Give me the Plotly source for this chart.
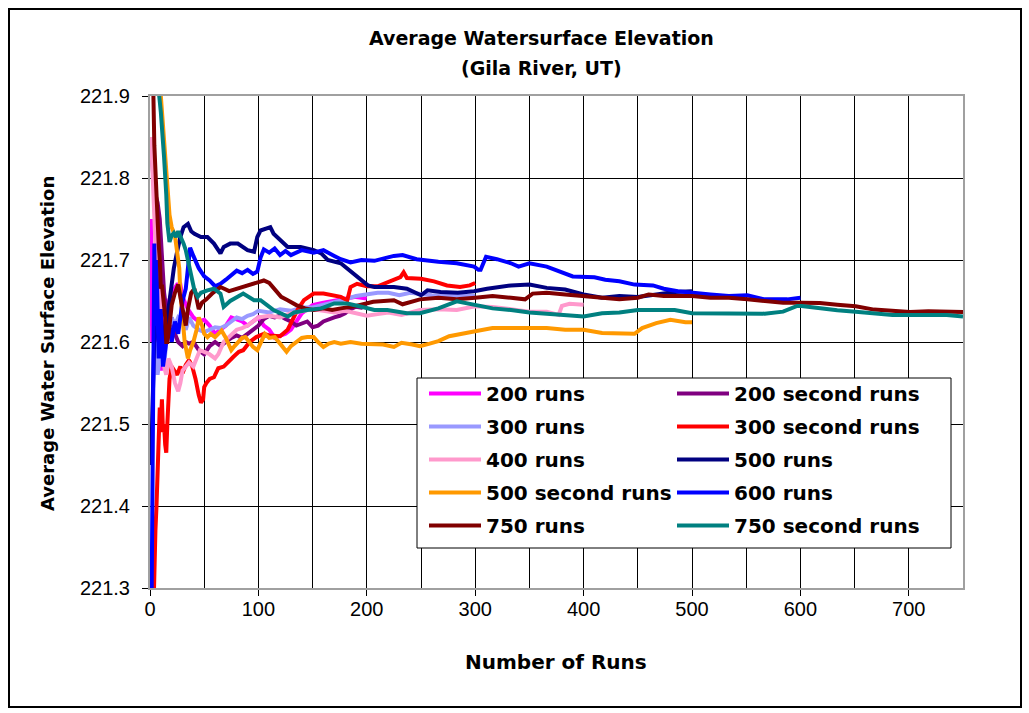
import plotly.graph_objects as go

# ---------------- data ----------------
x_ticks = [0, 100, 200, 300, 400, 500, 600, 700]
y_ticks = [221.3, 221.4, 221.5, 221.6, 221.7, 221.8, 221.9]

runs_200 = [1, 2, 3, 5, 8, 10, 12, 15, 20, 25, 28, 30, 35, 40, 45, 50, 55, 60, 65, 70, 75, 80, 85, 90,
            95, 100, 105, 110, 115, 120, 125, 130, 135, 140, 145, 150, 160, 170, 180, 190, 200]
elev_200 = [221.75, 221.60, 221.70, 221.62, 221.60, 221.565, 221.60, 221.64, 221.66, 221.67, 221.67, 221.655,
            221.64, 221.63, 221.625, 221.627, 221.62, 221.61, 221.615, 221.62, 221.63, 221.628, 221.625, 221.62,
            221.625, 221.63, 221.62, 221.615, 221.605, 221.607, 221.61, 221.615, 221.625, 221.635, 221.64,
            221.645, 221.648, 221.65, 221.652, 221.655, 221.653]

runs_200b = [1, 3, 5, 7, 9, 11, 13, 15, 18, 20, 23, 26, 30, 33, 36, 40, 45, 50, 55, 60, 65, 70, 75, 80,
             85, 90, 95, 100, 105, 110, 115, 120, 125, 130, 135, 140, 145, 150, 155, 160, 165, 170, 175,
             180, 185, 190, 195, 200]
elev_200b = [221.85, 221.80, 221.78, 221.77, 221.75, 221.70, 221.66, 221.64, 221.62, 221.63, 221.61, 221.60,
             221.595, 221.60, 221.598, 221.60, 221.59, 221.585, 221.595, 221.60, 221.595, 221.60, 221.605,
             221.608, 221.605, 221.61, 221.615, 221.62, 221.628, 221.632, 221.63, 221.632, 221.628, 221.625,
             221.62, 221.622, 221.625, 221.618, 221.62, 221.625, 221.628, 221.63, 221.632, 221.635, 221.64,
             221.643, 221.642, 221.645]

runs_300 = [1, 3, 5, 7, 9, 11, 13, 15, 18, 20, 23, 26, 30, 33, 36, 40, 45, 50, 55, 60, 65, 70, 75, 80, 85,
            90, 95, 100, 110, 120, 130, 140, 150, 160, 170, 180, 190, 200, 210, 220, 230, 240, 250, 260,
            270, 280, 290, 300]
elev_300 = [221.45, 221.55, 221.60, 221.56, 221.58, 221.60, 221.57, 221.60, 221.62, 221.63, 221.62, 221.63,
            221.625, 221.615, 221.63, 221.62, 221.615, 221.612, 221.615, 221.618, 221.617, 221.62, 221.625,
            221.63, 221.628, 221.632, 221.634, 221.638, 221.636, 221.64, 221.638, 221.642, 221.642, 221.645,
            221.648, 221.652, 221.656, 221.658, 221.66, 221.66, 221.657, 221.66, 221.658, 221.657, 221.656,
            221.657, 221.656, 221.656]

runs_300b = [1, 3, 5, 6, 7, 8, 9, 10, 11, 12, 13, 14, 15, 16, 17, 18, 20, 22, 25, 28, 30, 33, 36, 39, 42,
             45, 47, 49, 50, 52, 55, 59, 63, 68, 72, 77, 82, 86, 92, 98, 105, 110, 120, 127, 130, 133, 136,
             142, 151, 160, 170, 176, 182, 185, 191, 200, 210, 225, 231, 234, 237, 250, 262, 274, 286, 295,
             300]
elev_300b = [221.15, 221.28, 221.37, 221.40, 221.45, 221.50, 221.52, 221.50, 221.53, 221.49, 221.50, 221.475,
             221.465, 221.50, 221.54, 221.555, 221.57, 221.565, 221.56, 221.57, 221.562, 221.572, 221.578,
             221.57, 221.555, 221.535, 221.526, 221.53, 221.545, 221.55, 221.555, 221.557, 221.568, 221.57,
             221.576, 221.582, 221.588, 221.59, 221.60, 221.606, 221.61, 221.608, 221.607, 221.615, 221.623,
             221.632, 221.639, 221.651, 221.659, 221.659, 221.656, 221.655, 221.651, 221.667, 221.671,
             221.668, 221.668, 221.675, 221.679, 221.685, 221.678, 221.677, 221.674, 221.669, 221.667,
             221.669, 221.672]

runs_400 = [1, 3, 5, 7, 9, 11, 13, 15, 17, 20, 23, 26, 28, 30, 33, 36, 40, 43, 46, 50, 55, 60, 63, 68, 72,
            75, 80, 85, 90, 95, 100, 110, 120, 130, 140, 150, 160, 170, 180, 190, 200, 210, 220, 232, 249,
            266, 283, 300, 316, 333, 350, 366, 377, 380, 387, 400]
elev_400 = [221.85, 221.78, 221.72, 221.68, 221.66, 221.60, 221.57, 221.56, 221.58, 221.57, 221.55, 221.54,
            221.55, 221.565, 221.57, 221.575, 221.57, 221.58, 221.59, 221.588, 221.585, 221.58, 221.585,
            221.60, 221.605, 221.61, 221.615, 221.617, 221.62, 221.625, 221.63, 221.632, 221.63, 221.635,
            221.638, 221.64, 221.638, 221.636, 221.638, 221.635, 221.632, 221.634, 221.636, 221.633,
            221.639, 221.640, 221.639, 221.6435, 221.6427, 221.640, 221.637, 221.637, 221.633, 221.644,
            221.6467, 221.6455]

runs_500 = [1, 3, 5, 8, 10, 13, 16, 19, 22, 25, 28, 31, 35, 38, 41, 47, 53, 59, 65, 68, 74, 81, 90, 96,
            99, 102, 108, 111, 114, 121, 127, 139, 151, 158, 164, 176, 188, 201, 207, 225, 237, 250, 256,
            268, 284, 299, 311, 333, 350, 366, 383, 400, 417, 433, 450, 467, 484, 500]
elev_500 = [221.45, 221.56, 221.66, 221.60, 221.63, 221.60, 221.63, 221.66, 221.69, 221.71, 221.728, 221.74,
            221.744, 221.735, 221.732, 221.728, 221.728, 221.72, 221.708, 221.716, 221.72, 221.72, 221.712,
            221.71, 221.728, 221.736, 221.738, 221.740, 221.732, 221.724, 221.716, 221.716, 221.712,
            221.708, 221.700, 221.696, 221.683, 221.669, 221.667, 221.667, 221.665, 221.657, 221.663,
            221.661, 221.660, 221.662, 221.665, 221.669, 221.670, 221.666, 221.664, 221.658, 221.654,
            221.656, 221.655, 221.658, 221.661, 221.662]

runs_500b = [1, 5, 8, 10, 12, 14, 16, 18, 20, 23, 25, 27, 28, 30, 32, 35, 37, 40, 43, 45, 48, 50, 53, 56,
             60, 63, 66, 70, 75, 78, 81, 85, 88, 91, 95, 99, 103, 106, 110, 115, 120, 126, 130, 135, 140,
             145, 151, 155, 160, 165, 170, 176, 185, 195, 207, 215, 225, 232, 242, 249, 258, 266, 276, 290,
             300, 316, 333, 350, 366, 383, 400, 417, 433, 447, 454, 467, 480, 494, 500]
elev_500b = [222.10, 222.00, 221.93, 221.90, 221.86, 221.82, 221.785, 221.755, 221.74, 221.73, 221.71,
             221.69, 221.66, 221.63, 221.60, 221.58, 221.59, 221.60, 221.615, 221.63, 221.62, 221.61, 221.606,
             221.61, 221.606, 221.61, 221.614, 221.605, 221.59, 221.595, 221.60, 221.605, 221.606, 221.60,
             221.594, 221.59, 221.60, 221.61, 221.605, 221.606, 221.598, 221.588, 221.595, 221.60, 221.605,
             221.606, 221.606, 221.60, 221.594, 221.598, 221.60, 221.598, 221.60, 221.598, 221.598, 221.597,
             221.594, 221.599, 221.597, 221.595, 221.598, 221.601, 221.607, 221.61, 221.613, 221.617,
             221.617, 221.617, 221.617, 221.615, 221.615, 221.611, 221.611, 221.61, 221.617, 221.623,
             221.627, 221.624, 221.624]

runs_600 = [1, 2, 3, 4, 5, 6, 8, 10, 12, 15, 18, 20, 23, 26, 28, 30, 33, 35, 37, 40, 45, 50, 55, 60, 65,
            70, 75, 80, 85, 90, 95, 99, 102, 105, 110, 115, 120, 125, 130, 140, 151, 160, 170, 176, 185,
            195, 207, 215, 225, 233, 246, 266, 283, 299, 303, 305, 310, 320, 333, 340, 350, 366, 377, 390,
            410, 420, 433, 447, 464, 474, 487, 500, 517, 534, 551, 567, 588, 600]
elev_600 = [221.20, 221.38, 221.56, 221.72, 221.62, 221.70, 221.58, 221.64, 221.57, 221.60, 221.62, 221.60,
            221.625, 221.61, 221.63, 221.65, 221.665, 221.69, 221.715, 221.705, 221.69, 221.68, 221.675,
            221.668, 221.671, 221.676, 221.682, 221.687, 221.684, 221.688, 221.683, 221.686, 221.703,
            221.713, 221.709, 221.714, 221.706, 221.711, 221.706, 221.712, 221.709, 221.712, 221.705,
            221.701, 221.697, 221.700, 221.699, 221.702, 221.705, 221.706, 221.701, 221.698, 221.696,
            221.692, 221.688, 221.688, 221.704, 221.701, 221.696, 221.692, 221.696, 221.692, 221.686,
            221.680, 221.679, 221.676, 221.674, 221.670, 221.669, 221.665, 221.662, 221.660, 221.658,
            221.656, 221.657, 221.652, 221.652, 221.654]

runs_750 = [1, 2, 3, 4, 5, 6, 7, 8, 9, 10, 11, 12, 13, 14, 15, 16, 18, 20, 23, 26, 28, 31, 33, 35, 38, 41,
            43, 45, 48, 52, 58, 65, 73, 80, 87, 99, 105, 110, 115, 121, 127, 135, 143, 151, 160, 168, 176,
            190, 206, 225, 233, 249, 266, 283, 300, 316, 333, 346, 353, 366, 383, 400, 417, 433, 450, 460,
            474, 500, 517, 534, 551, 567, 584, 601, 618, 634, 651, 668, 685, 701, 718, 735, 750]
elev_750 = [222.05, 221.95, 221.88, 221.84, 221.81, 221.77, 221.745, 221.72, 221.70, 221.665, 221.67,
            221.655, 221.64, 221.63, 221.60, 221.60, 221.62, 221.645, 221.66, 221.67, 221.655, 221.63, 221.62,
            221.64, 221.66, 221.665, 221.65, 221.64, 221.648, 221.652, 221.66, 221.667, 221.662, 221.665,
            221.668, 221.672, 221.675, 221.672, 221.665, 221.655, 221.651, 221.645, 221.641, 221.639,
            221.641, 221.639, 221.641, 221.644, 221.649, 221.651, 221.646, 221.652, 221.654, 221.652,
            221.654, 221.656, 221.654, 221.652, 221.659, 221.660, 221.658, 221.656, 221.654, 221.652,
            221.654, 221.658, 221.656, 221.656, 221.654, 221.654, 221.652, 221.650, 221.648, 221.648,
            221.6475, 221.6455, 221.6435, 221.6395, 221.6375, 221.6366, 221.6375, 221.6366, 221.6366]

runs_750b = [1, 5, 8, 10, 11, 13, 15, 16, 18, 20, 22, 24, 26, 28, 31, 33, 35, 38, 41, 44, 47, 53, 59, 65,
             68, 74, 80, 86, 96, 102, 108, 114, 127, 133, 145, 158, 170, 182, 195, 207, 219, 237, 249, 260,
             266, 283, 300, 316, 333, 350, 366, 383, 400, 417, 433, 450, 467, 484, 500, 517, 534, 551, 567,
             584, 597, 601, 618, 634, 651, 668, 685, 701, 718, 735, 750]
elev_750b = [222.10, 221.98, 221.907, 221.88, 221.866, 221.825, 221.78, 221.745, 221.722, 221.73, 221.733,
             221.728, 221.735, 221.73, 221.72, 221.712, 221.70, 221.68, 221.663, 221.655, 221.66, 221.663,
             221.665, 221.659, 221.643, 221.65, 221.655, 221.659, 221.651, 221.651, 221.645, 221.639,
             221.631, 221.636, 221.639, 221.641, 221.647, 221.647, 221.643, 221.639, 221.639, 221.635,
             221.635, 221.639, 221.641, 221.6495, 221.6455, 221.641, 221.639, 221.636, 221.6346, 221.633,
             221.631, 221.635, 221.636, 221.639, 221.639, 221.639, 221.635, 221.635, 221.6346, 221.6346,
             221.6346, 221.637, 221.644, 221.644, 221.641, 221.6386, 221.637, 221.635, 221.633, 221.633,
             221.633, 221.633, 221.631]

series = [
    ("200 runs", runs_200, elev_200, "#FF00FF", "legend"),
    ("200 second runs", runs_200b, elev_200b, "#800080", "legend2"),
    ("300 runs", runs_300, elev_300, "#9999FF", "legend"),
    ("300 second runs", runs_300b, elev_300b, "#FF0000", "legend2"),
    ("400 runs", runs_400, elev_400, "#FF99CC", "legend"),
    ("500 runs", runs_500, elev_500, "#000080", "legend2"),
    ("500 second runs", runs_500b, elev_500b, "#FF9900", "legend"),
    ("600 runs", runs_600, elev_600, "#0000FF", "legend2"),
    ("750 runs", runs_750, elev_750, "#800000", "legend"),
    ("750 second runs", runs_750b, elev_750b, "#008080", "legend2"),
]

# ---------------- figure ----------------
W, H = 1029, 713
L, R, T, B = 150, 66, 96, 125
PW, PH = W - L - R, H - T - B


def px(xp):
    return (xp - L) / PW


def py(yp):
    return (H - B - yp) / PH


fig = go.Figure()
for name, xs, ys, col, leg in series:
    fig.add_trace(go.Scatter(x=xs, y=ys, mode="lines", name=name, legend=leg,
                             legendgroup=name, line=dict(color=col, width=4)))

tick_font = dict(family="Liberation Sans, Arial, sans-serif", size=20, color="black")
bold = dict(family="DejaVu Sans", size=19, color="black", weight="bold")

leg_common = dict(font=dict(family="DejaVu Sans", size=20, color="black", weight="bold"),
                  bgcolor="rgba(0,0,0,0)", borderwidth=0, orientation="v",
                  xanchor="left", yanchor="top", tracegroupgap=4, itemwidth=52,
                  traceorder="grouped")

fig.update_layout(
    width=W, height=H,
    margin=dict(l=L, r=R, t=T, b=B, autoexpand=False),
    paper_bgcolor="white", plot_bgcolor="white",
    showlegend=True,
    legend=dict(x=px(424), y=py(374), **leg_common),
    legend2=dict(x=px(672), y=py(374), **leg_common),
    xaxis=dict(range=[0, 750], tickvals=x_ticks, ticktext=[str(v) for v in x_ticks],
               showgrid=True, gridcolor="black", gridwidth=1,
               minor=dict(dtick=50, tick0=0, showgrid=True, gridcolor="black", gridwidth=1),
               ticks="outside", ticklen=6, tickcolor="black", tickwidth=1,
               showline=True, linecolor="#A0A0A0", linewidth=2, mirror=True,
               tickfont=tick_font, zeroline=False, ticklabelstandoff=-4),
    yaxis=dict(range=[221.3, 221.9], tickvals=y_ticks, ticktext=["%.1f" % v for v in y_ticks],
               showgrid=True, gridcolor="black", gridwidth=1,
               ticks="outside", ticklen=6, tickcolor="black", tickwidth=1,
               showline=True, linecolor="#A0A0A0", linewidth=2, mirror=True,
               tickfont=tick_font, zeroline=False, ticklabelstandoff=8),
    shapes=[
        dict(type="rect", xref="paper", yref="paper", x0=px(417), x1=px(951), y0=py(548), y1=py(378),
             fillcolor="white", line=dict(color="black", width=1), layer="above"),
        dict(type="rect", xref="paper", yref="paper", x0=px(9), x1=px(1021), y0=py(707), y1=py(9),
             fillcolor="rgba(0,0,0,0)", line=dict(color="black", width=2), layer="above"),
    ],
    annotations=[
        dict(text="Average Watersurface Elevation", xref="paper", yref="paper", x=px(541), y=py(38),
             xanchor="center", yanchor="middle", showarrow=False, font=bold),
        dict(text="(Gila River, UT)", xref="paper", yref="paper", x=px(541), y=py(68),
             xanchor="center", yanchor="middle", showarrow=False, font=bold),
        dict(text="Average Water Surface Elevation", xref="paper", yref="paper", x=px(47), y=py(344),
             xanchor="center", yanchor="middle", showarrow=False, textangle=-90,
             font=dict(family="DejaVu Sans", size=18, color="black", weight="bold")),
        dict(text="Number of Runs", xref="paper", yref="paper", x=px(556), y=py(662),
             xanchor="center", yanchor="middle", showarrow=False,
             font=dict(family="DejaVu Sans", size=20, color="black", weight="bold")),
    ],
)

fig.write_html("out.html")
